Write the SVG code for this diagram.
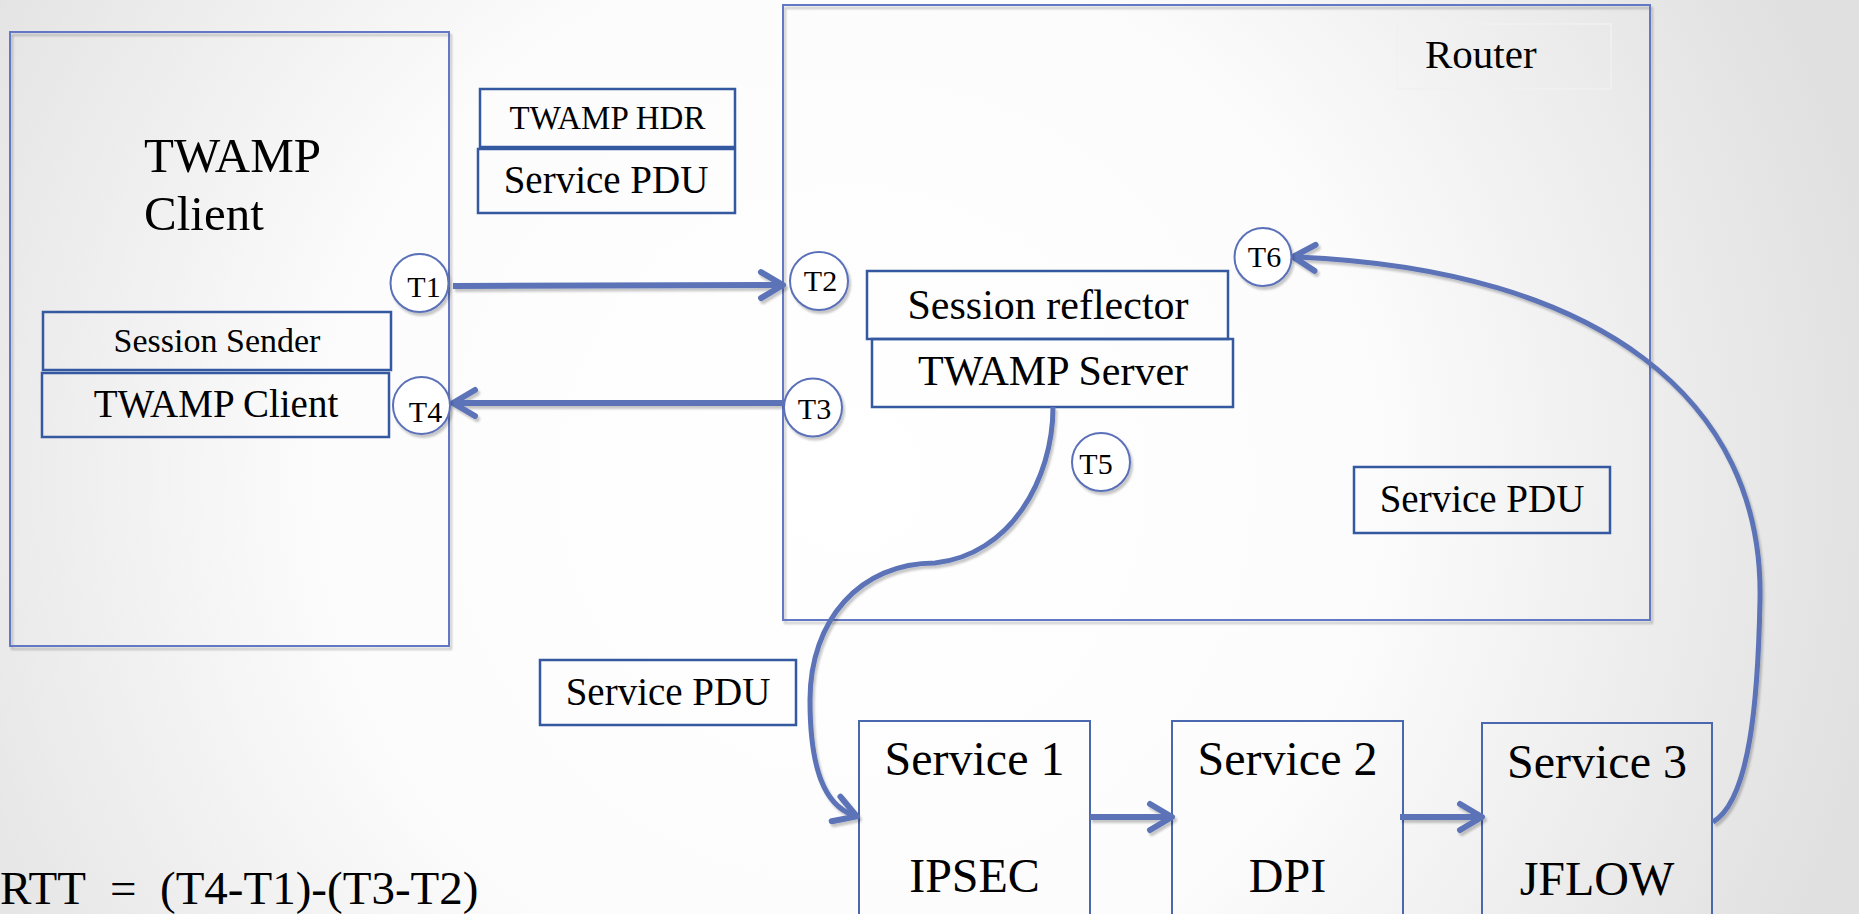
<svg xmlns="http://www.w3.org/2000/svg" width="1859" height="914" viewBox="0 0 1859 914">
<defs>
<radialGradient id="bg" gradientUnits="userSpaceOnUse" cx="850" cy="480" r="1050">
<stop offset="0" stop-color="#ffffff"/>
<stop offset="0.5" stop-color="#fcfcfc"/>
<stop offset="1" stop-color="#e0e0e0"/>
</radialGradient>
<filter id="sh" filterUnits="userSpaceOnUse" x="0" y="0" width="1859" height="914">
<feDropShadow dx="2" dy="3" stdDeviation="1.2" flood-color="#000" flood-opacity="0.22"/>
</filter>
<marker id="ah" markerUnits="userSpaceOnUse" viewBox="0 0 34 34" markerWidth="34" markerHeight="34" refX="25" refY="17" orient="auto">
<path d="M7,4 L29,17 L7,30" fill="none" stroke="#5b73b8" stroke-width="6" stroke-linecap="round" stroke-linejoin="round"/>
</marker>
<style>
text{font-family:"Liberation Serif","Times New Roman",serif;fill:#000}
.big{fill:none;stroke:#6478c4;stroke-width:2}
.sm{fill:none;stroke:#3559a0;stroke-width:2.5}
.svc{fill:none;stroke:#4a68ae;stroke-width:2}
.tc{fill:#fff;stroke:#5a70b8;stroke-width:2}
.tl{font-size:30px;text-anchor:middle}
.mid{text-anchor:middle}
.con{fill:none;stroke:#5b73b8;stroke-width:6;marker-end:url(#ah)}
.cv{fill:none;stroke:#5b73b8;stroke-width:5;marker-end:url(#ah)}
</style>
</defs>
<rect x="0" y="0" width="1859" height="914" fill="url(#bg)"/>

<g id="client-box" filter="url(#sh)">
<rect class="big" x="10" y="32" width="439" height="614"/>
</g>
<g id="client-title">
<text x="144" y="172" font-size="49">TWAMP</text>
<text x="144" y="230" font-size="49">Client</text>
</g>

<g id="router-box" filter="url(#sh)">
<rect class="big" x="783" y="5" width="867" height="615"/>
</g>
<g id="router-label">
<rect x="1397" y="24" width="214" height="65" fill="none" stroke="#f1f1f1" stroke-width="1.5"/>
<text x="1425" y="68" font-size="41">Router</text>
</g>

<g id="twamp-hdr">
<rect class="sm" x="480" y="89" width="255" height="58"/>
<text class="mid" x="607.5" y="129" font-size="33">TWAMP HDR</text>
</g>
<g id="service-pdu-top">
<rect class="sm" x="478" y="149" width="257" height="64"/>
<text class="mid" x="606" y="193" font-size="39">Service PDU</text>
</g>

<g id="session-sender">
<rect class="sm" x="43" y="312" width="348" height="58"/>
<text class="mid" x="217" y="352" font-size="34">Session Sender</text>
</g>
<g id="twamp-client">
<rect class="sm" x="42" y="373" width="347" height="64"/>
<text class="mid" x="216" y="417" font-size="39">TWAMP Client</text>
</g>

<g id="session-reflector">
<rect class="sm" x="867" y="271" width="361" height="68"/>
<text class="mid" x="1048" y="319" font-size="42">Session reflector</text>
</g>
<g id="twamp-server">
<rect class="sm" x="872" y="339" width="361" height="68"/>
<text class="mid" x="1053" y="385" font-size="42">TWAMP Server</text>
</g>

<g id="service-pdu-router">
<rect class="sm" x="1354" y="467" width="256" height="66"/>
<text class="mid" x="1482" y="512" font-size="39">Service PDU</text>
</g>
<g id="service-pdu-left">
<rect class="sm" x="540" y="660" width="256" height="65"/>
<text class="mid" x="668" y="705" font-size="39">Service PDU</text>
</g>

<g id="service1">
<rect class="svc" x="859" y="721" width="231" height="200"/>
<text class="mid" x="974.5" y="775" font-size="48">Service 1</text>
<text class="mid" x="974.5" y="892" font-size="48">IPSEC</text>
</g>
<g id="service2">
<rect class="svc" x="1172" y="721" width="231" height="200"/>
<text class="mid" x="1287.5" y="775" font-size="48">Service 2</text>
<text class="mid" x="1287.5" y="892" font-size="48">DPI</text>
</g>
<g id="service3">
<rect class="svc" x="1482" y="723" width="230" height="200"/>
<text class="mid" x="1597" y="778" font-size="48">Service 3</text>
<text class="mid" x="1597" y="895" font-size="48">JFLOW</text>
</g>

<g id="connectors" filter="url(#sh)">
<path class="con" d="M453,286 L779,285"/>
<path class="con" d="M784,403 L457,403"/>
<path class="con" d="M1090,817 L1168,817"/>
<path class="con" d="M1400,817 L1478,817"/>
<path class="cv" d="M1053,407 C1053,480 1010,555 935,563 C860,563 810,620 810,700 C810,770 825,805 853,815"/>
<path class="cv" d="M1713,822 C1750,800 1758,700 1760,600 C1764,400 1600,270 1297,257"/>
</g>

<g id="t1" filter="url(#sh)"><ellipse class="tc" cx="419.5" cy="283" rx="29" ry="29"/></g>
<text class="tl" x="424" y="297">T1</text>
<g id="t2" filter="url(#sh)"><ellipse class="tc" cx="819" cy="281" rx="29" ry="29"/></g>
<text class="tl" x="820.5" y="291">T2</text>
<g id="t3" filter="url(#sh)"><ellipse class="tc" cx="813" cy="407.5" rx="29" ry="29"/></g>
<text class="tl" x="814.5" y="419">T3</text>
<g id="t4" filter="url(#sh)"><ellipse class="tc" cx="421.5" cy="405.5" rx="28.5" ry="28.5"/></g>
<text class="tl" x="425.5" y="422">T4</text>
<g id="t5" filter="url(#sh)"><ellipse class="tc" cx="1101" cy="462" rx="29" ry="29"/></g>
<text class="tl" x="1096" y="474">T5</text>
<g id="t6" filter="url(#sh)"><ellipse class="tc" cx="1263" cy="257" rx="28.5" ry="29"/></g>
<text class="tl" x="1264.5" y="267">T6</text>

<g id="rtt">
<text y="904" font-size="47"><tspan x="0">RTT </tspan><tspan x="110">= </tspan><tspan x="160">(T4-T1)-(T3-T2)</tspan></text>
</g>
</svg>
